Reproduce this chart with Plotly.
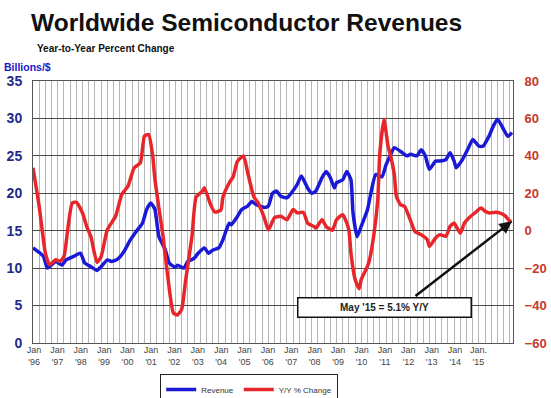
import plotly.graph_objects as go

# months since Jan 1996
rev_month = [0, 5, 7, 11, 14, 16, 20, 23, 25, 28, 31, 33, 36, 38, 41, 44, 47, 50, 53, 55, 57, 59,
             61, 64, 66, 69, 70, 73, 75, 78, 80, 83, 85, 87, 90, 92, 95, 96, 99, 101, 104, 106, 108,
             112, 114, 116, 118, 120, 123, 125, 128, 130, 133, 135, 137, 140, 142, 144, 146, 147,
             150, 152, 154, 155, 157, 159, 162, 164, 166, 169, 171, 173, 175, 179, 181, 183, 186,
             188, 190, 192, 195, 197, 200, 202, 204, 205, 208, 211, 213, 216, 218, 221, 223, 225,
             228, 230, 232]
revenue = [12.7, 11.6, 10.0, 10.9, 10.4, 11.1, 11.6, 12.0, 10.7, 10.2, 9.7, 10.2, 11.1, 10.9, 11.2,
           12.2, 13.7, 14.9, 16.0, 17.8, 18.7, 17.9,
           14.2, 12.5, 10.7, 10.1, 10.4, 10.0, 10.9, 11.3, 12.0, 12.7, 12.0, 12.4, 12.7, 13.8, 16.0,
           15.8, 16.9, 17.8, 18.3, 18.9, 18.5,
           18.1, 18.3, 20.0, 20.3, 19.6, 19.4, 20.0, 21.2, 22.3, 20.7, 20.0, 20.3, 22.1, 22.9, 22.1,
           20.7, 21.4,
           21.8, 22.9, 21.8, 17.4, 14.2, 15.6, 17.8, 20.5, 22.5, 22.2, 23.8, 25.0, 26.1, 25.4, 25.0,
           25.2, 25.0,
           25.8, 25.0, 23.2, 24.3, 24.3, 24.5, 25.4, 24.3, 23.4, 24.5, 26.1, 27.2, 26.3, 26.3, 27.7,
           29.0, 29.9,
           28.5, 27.6, 28.1]

yoy_month = [0, 3, 6, 8, 11, 13, 15, 17, 19, 21, 24, 26, 28, 31, 33, 36, 40, 43, 46, 49, 52, 54, 56,
             58, 59, 61, 63, 65, 68, 70, 72, 74, 77, 79, 82, 83, 86, 88, 91, 92, 95, 97, 99, 102, 104,
             107, 109, 112, 114, 116, 117, 120, 123, 126, 128, 131, 133, 136, 137, 140, 142, 145, 147,
             150, 151, 153, 154, 156, 158, 159, 162, 163, 165, 167, 168, 170, 172, 173, 175, 176, 178,
             180, 183, 185, 188, 191, 192, 195, 197, 200, 202, 204, 205, 207, 209, 212, 214, 217, 219,
             221, 224, 226, 229, 231, 232]
yoy_change = [33.6, 13, -12, -18.2, -15.5, -16.4, -13.8, 2.3, 14.8, 15.2, 9.5, 2.3, -3, -17, -13.8,
              0.5, 7.7, 19.3, 23.8, 33.6, 36.3, 50.5, 51.4,
              40, 28, 12, -3, -22, -44, -45, -42, -26, -3, 18, 21, 23, 14, 10, 11, 18, 25.5, 29, 37,
              40, 31,
              18, 15, 7, 0.5, 5, 7, 7.7, 5.9, 11.3, 9.5, 9.8, 4.1, 2.3, 1.4, 5.9, 2.3, 0.2, 5.9,
              8.6, 6.8, 0.5, -12, -26, -31, -26, -19, -15.5, -3, 16.6, 41.6, 59.5, 45, 41, 30, 18.4,
              13.9,
              13, 5, -0.4, -2.1, -4.8, -8.4, -3.9, -2.1, -3, 2.3, 4.1, 2.3, -1.3, 4.1, 7.7, 9.5, 12.1,
              10.4,
              9.5, 9.8, 9.5, 7.7, 5, 5.1]

year_labels = ["Jan<br>'96", "Jan<br>'97", "Jan<br>'98", "Jan<br>'99", "Jan<br>'00", "Jan<br>'01",
               "Jan<br>'02", "Jan<br>'03", "Jan<br>'04", "Jan<br>'05", "Jan<br>'06", "Jan<br>'07",
               "Jan<br>'08", "Jan<br>'09", "Jan<br>'10", "Jan<br>'11", "Jan<br>'12", "Jan<br>'13",
               "Jan<br>'14", "Jan.<br>'15"]
label_pos = [0.5 + 11.33 * i for i in range(len(year_labels))]

BLUE = "#1a1ad6"
RED = "#e8262a"
FONT = "Liberation Sans, Arial, sans-serif"

fig = go.Figure()
fig.add_trace(go.Scatter(x=rev_month, y=revenue, mode="lines", name="Revenue",
                         line=dict(color=BLUE, width=3.5, shape="spline", smoothing=0.5),
                         xaxis="x", yaxis="y"))
fig.add_trace(go.Scatter(x=yoy_month, y=yoy_change, mode="lines", name="Y/Y % Change",
                         line=dict(color=RED, width=3.5, shape="spline", smoothing=0.5),
                         xaxis="x", yaxis="y2"))
# invisible helper trace to carry tick-label axis
fig.add_trace(go.Scatter(x=[0], y=[0], mode="markers", marker=dict(opacity=0),
                         showlegend=False, hoverinfo="skip", xaxis="x2", yaxis="y"))

x_range = [0, 232.5]
fig.update_layout(
    width=551, height=398,
    margin=dict(l=33, r=38, t=81, b=55, autoexpand=False),
    paper_bgcolor="white", plot_bgcolor="white",
    font=dict(family=FONT),
    showlegend=True,
    legend=dict(orientation="h", x=0.265, y=-0.118, xanchor="left", yanchor="top",
                bordercolor="#222", borderwidth=1, bgcolor="white",
                font=dict(size=8, color="#333", family=FONT),
                itemwidth=30, tracegroupgap=0),
    xaxis=dict(range=x_range, tick0=0, dtick=3, showgrid=True, gridcolor="#b4b4b4", gridwidth=1,
               showticklabels=False, zeroline=False, showline=True, linecolor="#555",
               mirror=True, ticks="", automargin=False),
    xaxis2=dict(range=x_range, overlaying="x", side="bottom", tickmode="array",
                tickvals=label_pos, ticktext=year_labels, showgrid=False, zeroline=False,
                showline=False, ticks="", automargin=False,
                tickfont=dict(size=9, color="#444", family=FONT)),
    yaxis=dict(range=[0, 35], dtick=5, showgrid=True, gridcolor="#4a4a4a", gridwidth=1,
               zeroline=False, showline=True, linecolor="#555", ticks="", automargin=False,
               ticklabelstandoff=7,
               tickfont=dict(size=14, color="#222a8a", family=FONT, weight="bold")),
    yaxis2=dict(range=[-60, 80], dtick=20, overlaying="y", side="right", showgrid=False,
                zeroline=False, showline=True, linecolor="#555", ticks="", automargin=False,
                ticklabelstandoff=8,
                tickfont=dict(size=13, color="#c8382c", family=FONT, weight="bold")),
)

# Titles
fig.add_annotation(text="<b>Worldwide Semiconductor Revenues</b>", xref="paper", yref="paper",
                   x=-0.008, y=1.225, xanchor="left", yanchor="middle", showarrow=False,
                   font=dict(size=24.5, color="#111", family=FONT))
fig.add_annotation(text="<b>Year-to-Year Percent Change</b>", xref="paper", yref="paper",
                   x=0.005, y=1.125, xanchor="left", yanchor="middle", showarrow=False,
                   font=dict(size=10, color="#111", family=FONT))
fig.add_annotation(text="<b>Billions/$</b>", xref="paper", yref="paper",
                   x=-0.065, y=1.055, xanchor="left", yanchor="middle", showarrow=False,
                   font=dict(size=10.5, color="#1818c8", family=FONT))

# Callout box and arrow
fig.add_annotation(text="<b>May '15 = 5.1% Y/Y</b>", xref="paper", yref="paper",
                   x=0.733, y=0.134, xanchor="center", yanchor="middle", showarrow=False,
                   font=dict(size=10, color="#222", family=FONT),
                   bgcolor="white", bordercolor="#111", borderwidth=1.5,
                   width=170, height=16)
fig.add_annotation(x=yoy_month[-1], y=yoy_change[-1], xref="x", yref="y2", text="",
                   showarrow=True, axref="pixel", ayref="pixel", ax=-98, ay=76,
                   arrowhead=2, arrowsize=1, arrowwidth=2.5, arrowcolor="#111", standoff=0)

fig.write_html("out.html", config={"displayModeBar": False},
               post_script="document.body.style.margin='0';")
